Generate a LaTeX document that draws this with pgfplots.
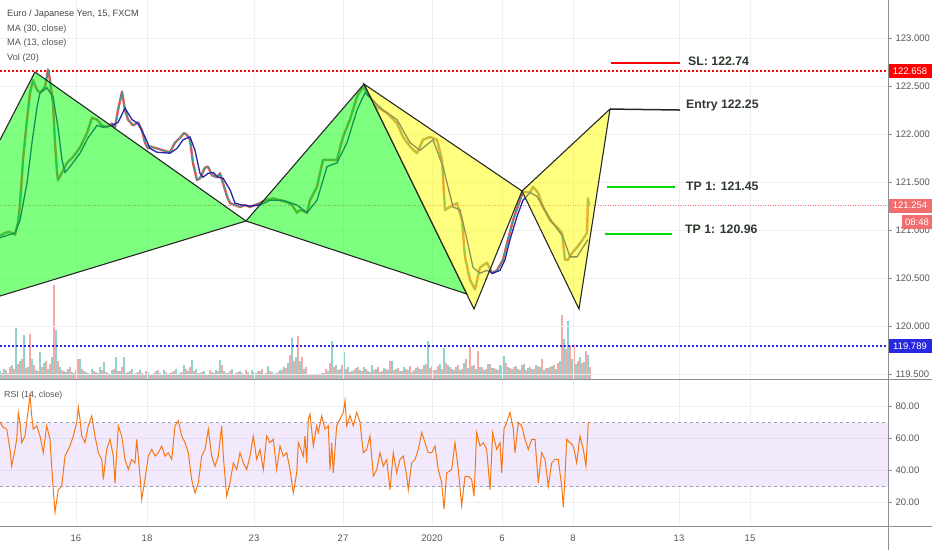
\documentclass[border=0pt]{standalone}
\usepackage{fontspec}
\setmainfont{Liberation Sans}
\usepackage{pgfplots}
\pgfplotsset{compat=1.18}
\definecolor{gridc}{RGB}{236,240,245}
\definecolor{labc}{RGB}{85,85,90}
\definecolor{sepc}{RGB}{140,143,150}
\definecolor{tealc}{RGB}{38,166,154}
\definecolor{redc}{RGB}{239,83,80}
\definecolor{mablue}{RGB}{30,40,170}
\definecolor{rsic}{RGB}{245,120,20}
\definecolor{bandc}{RGB}{243,233,253}
\definecolor{bandline}{RGB}{228,218,242}
\definecolor{dashc}{RGB}{160,160,170}
\definecolor{polyc}{RGB}{40,40,40}
\definecolor{annc}{RGB}{47,58,47}
\definecolor{pinkc}{RGB}{242,110,110}
\definecolor{bluebox}{RGB}{40,40,225}
\definecolor{tpgreen}{RGB}{0,220,0}
\begin{document}
\begin{tikzpicture}
\useasboundingbox (0pt,0pt) rectangle (932pt,550pt);
% ---------------- volume ----------------
\begin{axis}[at={(0pt,171pt)}, anchor=south west, width=888pt, height=379pt, scale only axis,
  xmin=0, xmax=888, ymin=0, ymax=379, hide axis, clip=false]
\addplot[ycomb, draw=tealc, draw opacity=0.5, line width=2pt, no markers] table {
0 8
4 10
8 6
12 14
16 51
20 18
24 44
28 12
32 20
36 9
40 27
44 16
48 10
52 22
56 49
60 12
64 8
68 10
72 7
76 9
80 20
84 8
88 6
92 10
96 7
100 12
104 17
108 6
112 9
116 22
120 8
124 22
128 7
132 10
136 6
140 9
144 5
148 7
152 5
156 8
160 6
164 9
168 5
172 7
176 10
180 6
184 14
188 8
192 19
196 10
200 6
204 8
208 5
212 7
216 9
220 19
224 8
228 6
232 10
236 6
240 8
244 5
248 7
252 9
256 6
260 8
264 5
268 13
272 7
276 6
280 9
284 12
288 16
292 41
296 22
300 18
304 10
308 4
312 4
316 5
320 4
324 6
328 8
332 38
336 14
340 10
344 27
348 12
352 8
356 11
360 9
364 12
368 8
372 14
376 10
380 7
384 11
388 9
392 18
396 10
400 8
404 12
408 9
412 7
416 11
420 10
424 14
428 38
432 13
436 9
440 15
444 31
448 14
452 10
456 12
460 9
464 16
468 11
472 13
476 10
480 12
484 9
488 15
492 11
496 10
500 14
504 23
508 12
512 10
516 13
520 9
524 15
528 11
532 10
536 14
540 12
544 9
548 11
552 13
556 10
560 18
564 40
568 58
572 20
576 15
580 22
584 17
588 24
};
\addplot[ycomb, draw=redc, draw opacity=0.5, line width=2pt, no markers] table {
2 6
6 9
10 12
14 10
18 15
22 20
26 11
30 45
34 14
38 8
42 12
46 18
50 15
54 94
58 18
62 9
66 7
70 12
74 6
78 20
82 10
86 7
90 5
94 8
98 6
102 9
106 7
110 5
114 10
118 8
122 12
126 6
130 8
134 5
138 7
142 6
146 8
150 5
154 6
158 9
162 5
166 7
170 6
174 8
178 5
182 7
186 10
190 12
194 8
198 6
202 7
206 5
210 9
214 6
218 8
222 14
226 6
230 8
234 5
238 7
242 6
246 9
250 5
254 7
258 8
262 10
266 6
270 8
274 5
278 7
282 9
286 11
290 24
294 18
298 43
302 22
306 12
310 5
314 4
318 5
322 6
326 10
330 16
334 12
338 9
342 14
346 10
350 7
354 9
358 12
362 8
366 10
370 7
374 9
378 12
382 8
386 10
390 18
394 9
398 11
402 8
406 10
410 13
414 9
418 12
422 10
426 15
430 11
434 9
438 13
442 10
446 16
450 12
454 9
458 14
462 10
466 20
470 32
474 14
478 28
482 12
486 10
490 15
494 11
498 9
502 13
506 16
510 11
514 12
518 10
522 14
526 9
530 12
534 10
538 13
542 20
546 11
550 12
554 14
558 16
562 64
566 30
570 34
574 34
578 18
582 16
586 28
590 12
};
\end{axis}
% ---------------- price panel ----------------
\begin{axis}[at={(0pt,171pt)}, anchor=south west, width=888pt, height=379pt, scale only axis,
  xmin=0, xmax=888, ymin=119.448, ymax=123.396, clip=false,
  axis line style={draw=none},
  xtick={76,147,254,343,432,502,573,679,750}, xticklabels={}, xtick style={draw=none},
  ytick={119.5,120,120.5,121,121.5,122,122.5,123},
  yticklabels={119.500,120.000,120.500,121.000,121.500,122.000,122.500,123.000},
  ytick pos=right, yticklabel pos=right, tick align=outside, major tick length=4pt,
  ytick style={draw=sepc, line width=0.8pt},
  yticklabel style={font=\fontsize{9.5}{10}\selectfont, text=labc},
  grid=major, major grid style={draw=gridc, line width=0.9pt}]
% horizontal price lines
\draw[red, line width=2pt, dash pattern=on 2pt off 2pt] (axis cs:0,122.658) -- (axis cs:888,122.658);
\draw[pinkc, line width=1pt, dash pattern=on 1pt off 1.5pt] (axis cs:0,121.254) -- (axis cs:888,121.254);
\draw[bluebox, line width=2pt, dash pattern=on 2pt off 2pt] (axis cs:0,119.789) -- (axis cs:888,119.789);
% price
\addplot[redc, line width=2.4pt, no markers, line join=round] table {
0 120.94
5 120.97
10 120.98
15 120.95
18 121.08
20 121.26
23 121.73
27 122.15
30 122.43
33 122.56
37 122.46
40 122.43
45 122.49
48 122.67
50 122.56
53 122.32
55 121.91
57 121.60
58 121.52
62 121.60
67 121.70
73 121.76
80 121.86
87 122.01
92 122.17
97 122.15
102 122.09
107 122.07
112 122.11
115 122.07
118 122.25
122 122.44
125 122.25
128 122.15
133 122.09
138 122.12
142 122.04
145 121.91
148 121.85
150 121.87
157 121.85
163 121.83
170 121.81
175 121.91
180 121.96
184 122.01
187 121.99
190 121.94
193 121.70
197 121.52
200 121.54
205 121.65
208 121.66
212 121.57
217 121.55
220 121.59
223 121.49
227 121.35
230 121.28
235 121.26
240 121.24
245 121.26
250 121.24
255 121.26
260 121.28
265 121.31
273 121.33
280 121.31
287 121.29
292 121.26
297 121.18
300 121.21
307 121.18
310 121.31
317 121.45
323 121.73
330 121.73
337 121.73
343 121.97
350 122.15
357 122.39
363 122.49
370 122.39
377 122.28
387 122.22
397 122.11
403 121.97
410 121.87
417 121.80
423 121.94
430 121.97
437 121.94
442 121.73
445 121.21
450 121.24
457 121.28
462 121.10
465 120.72
470 120.48
475 120.38
480 120.61
487 120.66
492 120.55
497 120.58
503 120.69
508 120.90
513 121.10
520 121.31
523 121.40
530 121.39
533 121.45
538 121.39
543 121.24
550 121.10
557 121.03
562 120.97
565 120.69
568 120.69
572 120.76
577 120.82
582 120.89
587 120.97
588 121.33
589 121.25
};
\addplot[tealc, line width=0.9pt, no markers] table {
0 120.94
5 120.97
10 120.98
15 120.95
18 121.08
20 121.26
23 121.73
27 122.15
30 122.43
33 122.56
37 122.46
40 122.43
45 122.49
48 122.67
50 122.56
53 122.32
55 121.91
57 121.60
58 121.52
62 121.60
67 121.70
73 121.76
80 121.86
87 122.01
92 122.17
97 122.15
102 122.09
107 122.07
112 122.11
115 122.07
118 122.25
122 122.44
125 122.25
128 122.15
133 122.09
138 122.12
142 122.04
145 121.91
148 121.85
150 121.87
157 121.85
163 121.83
170 121.81
175 121.91
180 121.96
184 122.01
187 121.99
190 121.94
193 121.70
197 121.52
200 121.54
205 121.65
208 121.66
212 121.57
217 121.55
220 121.59
223 121.49
227 121.35
230 121.28
235 121.26
240 121.24
245 121.26
250 121.24
255 121.26
260 121.28
265 121.31
273 121.33
280 121.31
287 121.29
292 121.26
297 121.18
300 121.21
307 121.18
310 121.31
317 121.45
323 121.73
330 121.73
337 121.73
343 121.97
350 122.15
357 122.39
363 122.49
370 122.39
377 122.28
387 122.22
397 122.11
403 121.97
410 121.87
417 121.80
423 121.94
430 121.97
437 121.94
442 121.73
445 121.21
450 121.24
457 121.28
462 121.10
465 120.72
470 120.48
475 120.38
480 120.61
487 120.66
492 120.55
497 120.58
503 120.69
508 120.90
513 121.10
520 121.31
523 121.40
530 121.39
533 121.45
538 121.39
543 121.24
550 121.10
557 121.03
562 120.97
565 120.69
568 120.69
572 120.76
577 120.82
582 120.89
587 120.97
588 121.33
589 121.25
};
% MA (30)
\addplot[mablue, line width=1.3pt, no markers] table {
0 120.92
15 120.97
20 121.10
27 121.49
32 121.91
37 122.28
40 122.43
47 122.48
53 122.39
58 122.07
62 121.73
65 121.60
70 121.66
80 121.80
88 121.96
97 122.09
103 122.07
112 122.09
118 122.12
125 122.27
132 122.15
138 122.11
145 121.97
150 121.85
157 121.81
170 121.80
177 121.85
183 121.94
190 121.97
195 121.83
200 121.59
203 121.55
208 121.59
213 121.60
218 121.55
223 121.54
230 121.42
235 121.28
242 121.26
250 121.25
260 121.26
270 121.31
283 121.31
297 121.26
307 121.18
317 121.31
327 121.66
337 121.70
347 121.91
357 122.25
365 122.43
373 122.35
383 122.25
397 122.15
410 121.91
420 121.83
433 121.94
443 121.66
453 121.24
460 121.21
467 120.90
473 120.61
480 120.55
487 120.58
493 120.55
500 120.58
505 120.69
510 120.90
517 121.14
523 121.31
530 121.39
537 121.35
543 121.24
553 121.07
563 120.93
570 120.72
577 120.72
583 120.82
588 120.90
};
% harmonic patterns
\addplot[draw=none, fill={rgb,255:red,0;green,255;blue,0}, fill opacity=0.5] coordinates {(0,121.9375) (35,122.646) (246,121.094) (0,120.3125)} -- cycle;
\addplot[polyc, line width=1.1pt, no markers] coordinates {(0,121.9375) (35,122.646) (246,121.094)};
\addplot[polyc, line width=1.1pt, no markers] coordinates {(0,120.3125) (246,121.094)};
\addplot[draw=polyc, line width=1.1pt, fill={rgb,255:red,0;green,255;blue,0}, fill opacity=0.5, no markers] coordinates {(246,121.094) (364,122.52) (467,120.333)} -- cycle;
\addplot[draw=polyc, line width=1.1pt, fill={rgb,255:red,255;green,255;blue,0}, fill opacity=0.5, no markers] coordinates {(364,122.52) (474,120.177) (522,121.406)} -- cycle;
\addplot[draw=polyc, line width=1.1pt, fill={rgb,255:red,255;green,255;blue,0}, fill opacity=0.5, no markers] coordinates {(522,121.406) (610,122.26) (579,120.177)} -- cycle;
% targets
\addplot[red, line width=1.5pt, no markers] coordinates {(611,122.74) (680,122.74)};
\addplot[polyc, line width=1.5pt, no markers] coordinates {(610,122.26) (680,122.25)};
\addplot[tpgreen, line width=1.5pt, no markers] coordinates {(607,121.45) (675,121.45)};
\addplot[tpgreen, line width=1.5pt, no markers] coordinates {(605,120.96) (672,120.96)};
\node[anchor=west, inner sep=0pt, text=annc, font=\fontsize{12.3}{13}\selectfont\bfseries] at (axis cs:688,122.760) {SL: 122.74};
\node[anchor=west, inner sep=0pt, text=annc, font=\fontsize{12.3}{13}\selectfont\bfseries] at (axis cs:686,122.292) {Entry 122.25};
\node[anchor=west, inner sep=0pt, text=annc, font=\fontsize{12.3}{13}\selectfont\bfseries] at (axis cs:686,121.458) {TP 1: 121.45};
\node[anchor=west, inner sep=0pt, text=annc, font=\fontsize{12.3}{13}\selectfont\bfseries] at (axis cs:685,121.010) {TP 1: 120.96};
% price boxes
\node[fill=red, text=white, inner sep=0pt, minimum width=44pt, minimum height=14pt, font=\fontsize{9.5}{10}\selectfont] at (axis cs:910,122.658) {122.658};
\node[fill=pinkc, text=white, inner sep=0pt, minimum width=44pt, minimum height=14pt, font=\fontsize{9.5}{10}\selectfont] at (axis cs:910,121.254) {121.254};
\node[fill=pinkc, text=white, inner sep=0pt, minimum width=30pt, minimum height=14pt, font=\fontsize{9.5}{10}\selectfont] at (axis cs:917,121.085) {08:48};
\node[fill=bluebox, text=white, inner sep=0pt, minimum width=44pt, minimum height=14pt, font=\fontsize{9.5}{10}\selectfont] at (axis cs:910,119.789) {119.789};
\end{axis}
% ---------------- RSI panel ----------------
\begin{axis}[at={(0pt,24pt)}, anchor=south west, width=888pt, height=147pt, scale only axis,
  xmin=0, xmax=888, ymin=5.4, ymax=97.3, clip=false,
  axis line style={draw=none},
  xtick={76,147,254,343,432,502,573,679,750},
  xticklabels={16,18,23,27,2020,6,8,13,15}, xtick style={draw=none},
  xticklabel style={font=\fontsize{9.5}{10}\selectfont, text=labc, yshift=-1pt},
  ytick={20,40,60,80}, yticklabels={20.00,40.00,60.00,80.00},
  ytick pos=right, yticklabel pos=right, tick align=outside, major tick length=4pt,
  ytick style={draw=sepc, line width=0.8pt},
  yticklabel style={font=\fontsize{9.5}{10}\selectfont, text=labc},
  grid=major, major grid style={draw=gridc, line width=0.9pt}]
\fill[bandc] (axis cs:0,30) rectangle (axis cs:888,70);
\draw[bandline, line width=0.9pt] (axis cs:0,40) -- (axis cs:888,40);
\draw[bandline, line width=0.9pt] (axis cs:0,60) -- (axis cs:888,60);
\draw[dashc, line width=0.8pt, dash pattern=on 3pt off 3pt] (axis cs:0,70) -- (axis cs:888,70);
\draw[dashc, line width=0.8pt, dash pattern=on 3pt off 3pt] (axis cs:0,30) -- (axis cs:888,30);
\addplot[rsic, line width=1pt, no markers] table {
0 70.1
3.3 67
6.7 66
10 53.3
11.7 42.8
15 53.3
16.7 59.6
18.3 76.4
20 70.1
21.7 57.5
25 61.7
28.3 78.5
30 87
31.7 74.3
33.3 66
36.7 68
40 61.7
43.3 51.2
46.7 68
50 59.6
51.7 42.8
53.3 28.1
55 14
58.3 28.1
61.7 30.2
65 49.1
70 55.4
73.3 61.7
76.7 70.1
78.3 79.6
80 72.2
81.7 61.7
85 57.5
88.3 68
91.7 74.3
95 61.7
98.3 51.2
101.7 47
103.3 34.4
106.7 53.3
110 59.6
113.3 49.1
115 32.3
118.3 68
121.7 61.7
125 47
128.3 40.7
131.7 47
135 44.9
136.7 59.6
140 36.5
141.7 22
145 34.4
148.3 49.1
151.7 53.3
155 49.1
158.3 51.2
161.7 55.4
165 49.1
168.3 51.2
171.7 47
175 68
178.3 71.2
181.7 61.7
185 57.5
188.3 51.2
191.7 34.4
195 26
198.3 32.3
201.7 49.1
205 53.3
208.3 65.9
211.7 49.1
215 42.8
218.3 49.1
221.7 68
223.3 49.1
226.7 24
230 32.3
233.3 44.9
236.7 40.7
240 51.2
243.3 44.9
246.7 40.7
250 49.1
253.3 61.7
256.7 47
260 53.3
263.3 40.7
266.7 61.7
270 57.5
273.3 59.6
276.7 40.7
280 55.4
283.3 49.1
286.7 51.2
290 40.7
293.3 26
296.7 38.6
298.3 57.5
300 55
303.3 49.1
305 61.7
306.7 44.9
308.3 72.2
310 75.4
313.3 55.4
316.7 68
318.3 63.8
321.7 74.3
325 66
328.3 68
330 40.7
331.7 57.5
333.3 38.6
336.7 68
340 72.2
343.3 76.4
345 83.8
346.7 68
350 74.3
353.3 68
356.7 76.4
360 70.1
363.3 51.2
366.7 53.3
370 61.7
373.3 36.5
376.7 40.7
380 51.2
383.3 42.8
386.7 47
390 28.1
393.3 51.2
396.7 38.6
400 47
403.3 49.1
406.7 36.5
408.3 28.1
411.7 44.9
415 47
418.3 53.3
421.7 63.8
425 57.5
428.3 51.2
431.7 51.2
435 55.4
438.3 40.7
441.7 32.3
444 16
446.7 38.6
451.7 40.7
455 57.5
458.3 40.7
461.7 18
465 36.5
468.3 36.5
471.7 34.4
474 24
476.7 63.8
480 55.4
483.3 57.5
486.7 53.3
490 28.1
492.7 63.8
496.7 53.3
500 57.5
501.7 38.6
504 66
506.7 70.1
510 76.4
513.3 66
515 51.2
518.3 70.1
521.7 68
525 59.6
528.3 53.3
531.7 59.6
535 59.6
538.3 32.3
541.7 51.2
545 47
548.3 30.2
551.7 44.9
555 47
558.3 47
561.7 30.2
563.3 17
565 36.5
566.7 59.6
570 57.5
573.3 55.4
576.7 44.9
580 61.7
583.3 53.3
586 42.8
588.3 70.1
};
\end{axis}
% separators and right axis line
\draw[sepc, line width=1pt] (0pt,171pt) -- (932pt,171pt);
\draw[sepc, line width=1pt] (0pt,24pt) -- (932pt,24pt);
\draw[sepc, line width=1pt] (888pt,0pt) -- (888pt,550pt);
% legends
\node[anchor=west, inner sep=0pt, text={rgb,255:red,70;green,70;blue,75}, font=\fontsize{9.2}{11}\selectfont] at (7pt,536pt) {Euro / Japanese Yen, 15, FXCM};
\node[anchor=west, inner sep=0pt, text=labc, font=\fontsize{9.2}{11}\selectfont] at (7pt,521pt) {MA (30, close)};
\node[anchor=west, inner sep=0pt, text=labc, font=\fontsize{9.2}{11}\selectfont] at (7pt,507pt) {MA (13, close)};
\node[anchor=west, inner sep=0pt, text=labc, font=\fontsize{9.2}{11}\selectfont] at (7pt,492pt) {Vol (20)};
\node[anchor=west, inner sep=0pt, text=labc, font=\fontsize{8.8}{10}\selectfont] at (4pt,155pt) {RSI (14, close)};
\end{tikzpicture}
\end{document}
